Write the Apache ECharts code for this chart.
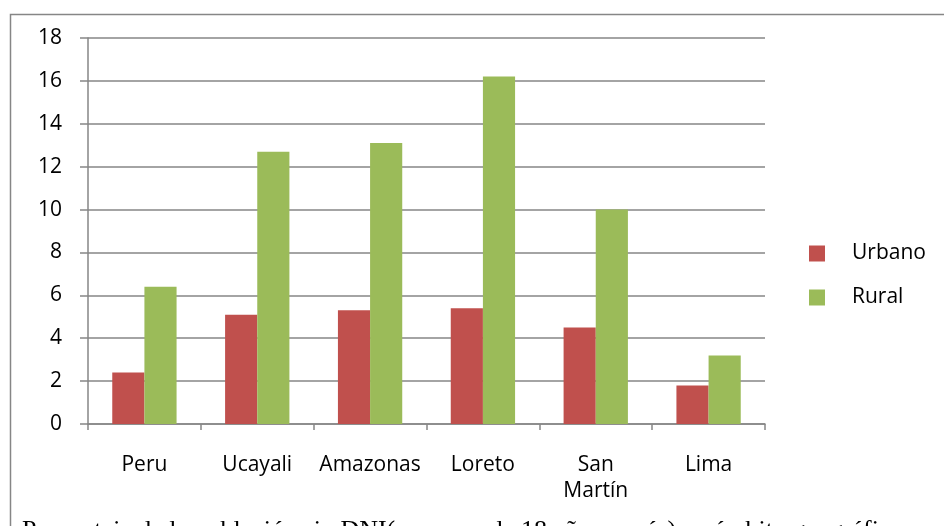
<!DOCTYPE html>
<html>
<head>
<meta charset="utf-8">
<script src="https://cdn.jsdelivr.net/npm/echarts@6/dist/echarts.min.js"></script>
<style>
html,body{margin:0;padding:0;background:#fff;}
#chart{width:944px;height:526px;}
</style>
</head>
<body>
<div id="chart"></div>
<script>
const categories = ['Peru', 'Ucayali', 'Amazonas', 'Loreto', 'San\nMartín', 'Lima'];
const urbano = [2.4, 5.1, 5.3, 5.4, 4.5, 1.8];
const rural = [6.4, 12.7, 13.1, 16.2, 10.0, 3.2];
const seriesNames = ['Urbano', 'Rural'];
const yTicks = { min: 0, max: 18, interval: 2 };
const caption = 'Porcentaje de la población sin DNI(mayores de 18 años a más) en ámbito geográfico';

const chart = echarts.init(document.getElementById('chart'));
const font = 'Open Sans';
const gray = '#868686';
chart.setOption({
  animation: false,
  backgroundColor: '#fff',
  textStyle: { fontFamily: font },
  grid: { left: 88, right: 179, top: 38, bottom: 102, containLabel: false },
  legend: {
    orient: 'vertical',
    left: 804,
    top: 238,
    icon: 'rect',
    itemWidth: 16,
    itemHeight: 16,
    itemGap: 23,
    textStyle: { fontFamily: font, fontSize: 21, color: '#000', padding: [0, 0, 0, 22], lineHeight: 16 },
    data: seriesNames
  },
  xAxis: {
    type: 'category',
    data: categories,
    axisLine: { lineStyle: { color: gray, width: 1.5 } },
    axisTick: { show: true, length: 6, alignWithLabel: false, lineStyle: { color: gray, width: 1.5 } },
    axisLabel: { color: '#000', fontSize: 21, fontFamily: font, margin: 28, lineHeight: 26, interval: 0 }
  },
  yAxis: {
    type: 'value',
    min: yTicks.min, max: yTicks.max, interval: yTicks.interval,
    axisLine: { show: true, lineStyle: { color: gray, width: 1.5 } },
    axisTick: { show: true, length: 8, lineStyle: { color: gray, width: 1.5 } },
    splitLine: { show: true, lineStyle: { color: gray, width: 1.5 } },
    axisLabel: { color: '#000', fontSize: 21, fontFamily: font, margin: 26 }
  },
  series: [
    { name: seriesNames[0], type: 'bar', data: urbano, itemStyle: { color: '#C0504D' }, barGap: '0%', barCategoryGap: '43%' },
    { name: seriesNames[1], type: 'bar', data: rural, itemStyle: { color: '#9BBB59' }, barGap: '0%', barCategoryGap: '43%' }
  ],
  graphic: [
    { type: 'rect', left: 8, top: 12, shape: { width: 960, height: 540 }, style: { fill: 'none', stroke: gray, lineWidth: 1.5 }, silent: true, z: -1 },
    { type: 'text', left: 22, top: 518, style: { text: caption, font: '26px "Liberation Serif"', fill: '#000' }, z: 10 }
  ]
});
</script>
</body>
</html>
